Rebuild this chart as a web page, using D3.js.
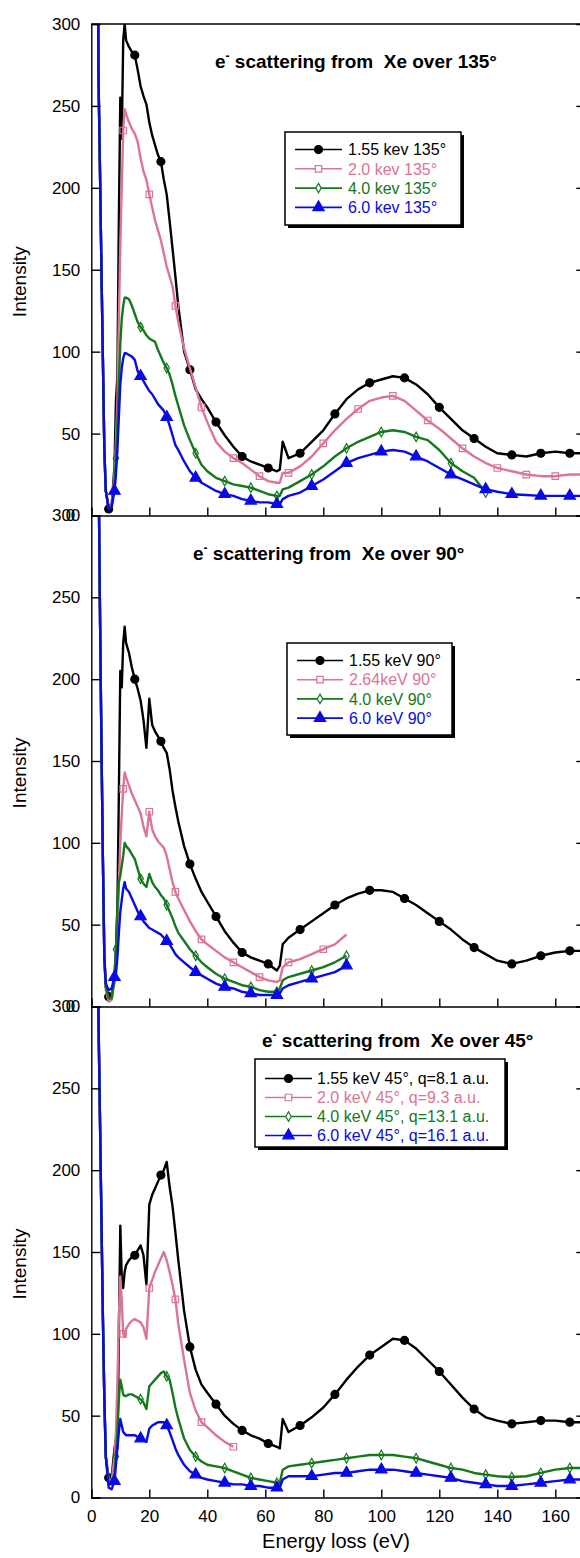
<!DOCTYPE html>
<html>
<head>
<meta charset="utf-8">
<script src="https://cdn.jsdelivr.net/npm/d3@7"></script>
<style>
body { margin: 0; background: #fff; }
text { font-family: "Liberation Sans", Arial, Helvetica, sans-serif; }
</style>
</head>
<body>
<div id="chart-area"></div>
<script>
// energy loss grid (eV), shared by every series
const energy = [2,2.5,3,3.5,4,4.5,5,6,7,8,8.5,9,9.5,10,10.5,11,11.5,12,13,14,15,16,17,18,19,20,21,22,23,24,25,26,27,28,29,30,32,34,36,38,40,43,46,49,52,55,58,61,64,65,66,68,72,76,80,84,88,92,96,100,104,108,112,116,120,124,128,132,136,140,145,150,155,160,165,170]

// 135 degrees
const black135 = [420,266,210,150,95,40,15,4,6, 30,70,85,180,255,230,290,300,290,
  286,283,281,272,262,256,251,240,232,226,220,216,205,196,180,163,146,128,
  100,89,77,71,66, 57,49,42,36,33,31,29,27, 28,45,35,
  38,45,52,62,71,77,81,83,85,84,80,74,66,59,52,47,42,38, 37,36,38,39,38,38]
const pink135 = [420,266,210,150,95,40,15,5,6, 25,45,70,120,165,200,235,248,245,
  240,236,233,228,218,210,205,196,188,180,174,168,160,152,146,140,128,118,
  102,90,78,66,57, 45,39,35,32,28,24,21,20, 20,26,26,
  30,36,44,52,59,65,70,72,73,70,64,58,53,47,41,36,32,29, 27,25,24,24,25,25]
const green135 = [420,266,210,150,95,40,15,5,5, 20,35,55,80,105,120,128,133,133,
  132,128,123,118,115,113,110,108,107,106,101,97,93,90,86,80,73,67,
  55,46,38,31,27, 23,21,19,18,17,15,13,12, 12,16,17,
  21,25,30,36,41,45,48,51,52,51,48,46,40,32,27,23,14,null, null,null,null,null,null,null]
const blue135 = [420,266,210,150,95,40,15,4,5, 15,25,40,60,80,90,96,99,99,
  98,97,95,88,85,82,79,76,74,71,68,66,64,60,55,49,43,40,
  33,27,23,20,18, 15,13,12,10,9,8,8,7, 7,10,12,
  14,18,22,27,32,35,37,39,40,39,36,33,29,25,22,19,16,14.5, 13,12.5,12,12,12,12]

// 90 degrees
const black90 = [420,330,240,160,90,30,12,6,5, 20,35,60,130,205,195,222,232,222,
  216,207,200,194,187,175,158,188,172,168,165,162,158,155,145,132,122,113,
  98,87,78,70,64, 55,46,39,33,30,28,26,22, 25,38,42,
  47,52,57,62,66,69,71,71,70,66,62,57,52,47,41,36,32,28, 26,28,31,33,34,34]
const pink90 = [420,330,240,160,90,30,10,3,4, 18,30,44,75,100,117,133,143,140,
  135,130,126,122,118,110,104,119,108,104,101,99,97,92,84,76,70,66,
  59,52,46,41,38, 34,30,27,24,21,18,16,15, 16,24,27,
  29,32,35,38,44,null,null,null,null,null,null,null,null,null,null,null,null,null, null,null,null,null,null,null]
const green90 = [420,330,240,160,90,30,12,5,5, 15,35,60,76,80,86,92,100,98,
  96,93,90,84,78,75,73,81,76,73,71,68,66,62,58,54,49,45,
  40,35,31,27,24, 20,17,15,13,12,10,9,9, 11,16,18,
  20,22,24,27,31,null,null,null,null,null,null,null,null,null,null,null,null,null, null,null,null,null,null,null]
const blue90 = [420,330,240,160,90,30,14,10,11, 18,20,30,45,58,65,72,76,72,
  70,66,62,58,55,52,50,48,47,46,45,44,42,40,38,35,32,30,
  27,24,21,19,17, 14,12,11,9,8,7,7,7, 8,11,13,
  15,17,19,21,25,null,null,null,null,null,null,null,null,null,null,null,null,null, null,null,null,null,null,null]

// 45 degrees
const black45 = [420,290,230,170,110,60,25,12,12, 30,36,30,100,166,135,128,138,142,
  145,147,148,151,154,148,130,179,185,189,193,197,200,205,190,178,162,145,
  114,92,78,69,64, 57,50,45,41,38,36,33,31, 30,48,40,
  44,49,55,63,72,80,87,92,97,96,91,84,77,69,61,54,49,47, 45,46,47,47,46,46]
const pink45 = [420,290,230,170,110,60,25,11,10, 25,40,70,110,135,120,100,98,103,
  106,108,109,108,107,104,97,128,133,138,142,146,150,145,138,130,121,106,
  84,64,53,46,43, 38,34,31,null,null,null,null,null, null,null,null,
  null,null,null,null,null,null,null,null,null,null,null,null,null,null,null,null,null,null, null,null,null,null,null,null]
const green45 = [420,290,230,170,110,60,25,8,8, 15,25,40,60,72,68,63,62,62,
  63,63,62,61,60,58,54,68,70,72,74,76,77,74,72,64,55,48,
  36,29,25,22,20, 19,18,16,14,12,11,10,9, 9,17,19,
  20,21,22,23,24,25,26,26,26,25,24,22,20,18,17,15,14,13, 12.5,13,15,17,18,18]
const blue45 = [420,290,230,170,110,60,25,6,5, 10,20,30,40,48,44,40,39,38,
  38,38,38,37,36,35,34,42,44,45,46,46,46,44,40,35,30,26,
  20,16,14,12,11, 10,9,8,8,7,7,6,6, 6,11,13,
  13,13,14,15,15,16,17,17,17,16,15,14,13,12,10,9,8,7, 7,8,9,10,11,11]

const legend135 = ["1.55 kev 135°", "2.0 kev 135°", "4.0 kev 135°", "6.0 kev 135°"]
const legend90 = ["1.55 keV 90°", "2.64keV 90°", "4.0 keV 90°", "6.0 keV 90°"]
const legend45 = ["1.55 keV 45°, q=8.1 a.u.", "2.0 keV 45°, q=9.3 a.u.", "4.0 keV 45°, q=13.1 a.u.", "6.0 keV 45°, q=16.1 a.u."]
const angles = ["135°", "90°", "45°"]

const xTicks = [0,20,40,60,80,100,120,140,160]
const yTicks = [0,50,100,150,200,250,300]

const w = 580
const h = 1558
const colors = ['#000000', '#dc7592', '#15781d', '#0a0ae6']
const symbols = [d3.symbolCircle, d3.symbolSquare, d3.symbolDiamond, d3.symbolTriangle]
const symSize = [50, 42, 26, 56]
const symFilled = [true, false, false, true]
const markStart = [6, 11, 8.5, 8]

const panels = [
  {top: 24, bottom: 515.5, series: [black135, pink135, green135, blue135], labels: legend135,
   titleX: 215, titleY: 68,
   box: {x: 285, y: 132, w: 176, h: 93, row0: 149.5, step: 19.3, l1: 295, l2: 342, tx: 348}},
  {top: 515.5, bottom: 1006.5, series: [black90, pink90, green90, blue90], labels: legend90,
   titleX: 193, titleY: 560,
   box: {x: 287, y: 643, w: 165, h: 92, row0: 660.5, step: 19.2, l1: 297, l2: 343, tx: 349}},
  {top: 1006.5, bottom: 1497.5, series: [black45, pink45, green45, blue45], labels: legend45,
   titleX: 262, titleY: 1047,
   box: {x: 255, y: 1059, w: 250, h: 88, row0: 1078.5, step: 19, l1: 265, l2: 312, tx: 317}}
]

const svg = d3.select('#chart-area')
  .append('svg')
  .attr('width', w)
  .attr('height', h)

const x = d3.scaleLinear().domain([0, 170]).range([91.3, 584.3])

panels.forEach((p, pi) => {
  const y = d3.scaleLinear().domain([0, 300]).range([p.bottom, p.top])
  const g = svg.append('g')

  g.append('clipPath').attr('id', 'clip' + pi)
    .append('rect')
    .attr('x', x(0)).attr('y', p.top)
    .attr('width', x(170) - x(0)).attr('height', p.bottom - p.top)

  const plot = g.append('g').attr('clip-path', 'url(#clip' + pi + ')')

  const line = d3.line()
    .defined(d => d.v != null)
    .x(d => x(d.e))
    .y(d => y(d.v))

  p.series.forEach((s, si) => {
    const pts = energy.map((e, i) => ({e: e, v: s[i]}))
    plot.append('path')
      .attr('d', line(pts))
      .attr('fill', 'none')
      .attr('stroke', colors[si])
      .attr('stroke-width', 2.4)
      .attr('stroke-linejoin', 'round')

    // markers about every 8.5 eV
    let last = -100
    const marks = pts.filter(d => {
      if (d.v == null || d.e < markStart[si]) return false
      if (d.e - last >= 8.4) { last = d.e; return true }
      return false
    })
    plot.selectAll('.m' + si)
      .data(marks)
      .enter()
      .append('path')
      .attr('transform', d => 'translate(' + x(d.e) + ',' + y(d.v) + ')')
      .attr('d', d3.symbol().type(symbols[si]).size(symSize[si]))
      .attr('fill', symFilled[si] ? colors[si] : 'none')
      .attr('stroke', colors[si])
      .attr('stroke-width', 1.2)
  })

  // axes
  const left = g.append('g')
    .attr('transform', 'translate(' + x(0) + ',0)')
    .call(d3.axisLeft(y).tickValues(yTicks).tickSize(-9).tickPadding(11))
  left.selectAll('text')
    .attr('font-size', 17)
    .attr('font-family', '"Liberation Sans", Arial, sans-serif')
    .attr('dx', d => (d === 0 && pi < 2) ? -5 : 0)

  const right = g.append('g')
    .attr('transform', 'translate(' + x(170) + ',0)')
    .call(d3.axisRight(y).tickValues(yTicks.slice(1, 6)).tickSize(-8).tickFormat(''))

  const bottom = g.append('g')
    .attr('transform', 'translate(0,' + p.bottom + ')')
    .call(d3.axisBottom(x).tickValues(xTicks).tickSize(-8).tickPadding(12)
      .tickFormat(pi === 2 ? d3.format('d') : ''))
  bottom.selectAll('text')
    .attr('font-size', 17)
    .attr('font-family', '"Liberation Sans", Arial, sans-serif')

  g.selectAll('.domain, .tick line').attr('stroke', '#000').attr('stroke-width', 1.4)

  if (pi === 0) {
    g.append('line')
      .attr('x1', x(0)).attr('x2', x(170))
      .attr('y1', p.top).attr('y2', p.top)
      .attr('stroke', '#000').attr('stroke-width', 1.4)
  }

  // title
  const t = g.append('text')
    .attr('x', p.titleX)
    .attr('y', p.titleY)
    .attr('font-size', 19)
    .attr('font-weight', 'bold')
    .style('white-space', 'pre')
  t.append('tspan').text('e')
  t.append('tspan').attr('dy', -8).attr('font-size', 12).text('-')
  t.append('tspan').attr('dy', 8).text(' scattering from  Xe over ' + angles[pi])

  // y label
  g.append('text')
    .attr('transform', 'translate(26,' + ((p.top + p.bottom) / 2 + 12) + ') rotate(-90)')
    .attr('text-anchor', 'middle')
    .attr('font-size', 19)
    .text('Intensity')

  // legend
  const b = p.box
  const lg = g.append('g')
  lg.append('rect')
    .attr('x', b.x + 3).attr('y', b.y + 3)
    .attr('width', b.w).attr('height', b.h)
    .attr('fill', '#000')
  lg.append('rect')
    .attr('x', b.x).attr('y', b.y)
    .attr('width', b.w).attr('height', b.h)
    .attr('fill', '#fff')
    .attr('stroke', '#000')
    .attr('stroke-width', 1.5)

  const rows = lg.selectAll('.row')
    .data(p.labels)
    .enter()
    .append('g')
    .attr('transform', (d, i) => 'translate(0,' + (b.row0 + i * b.step) + ')')

  rows.append('line')
    .attr('x1', b.l1).attr('x2', b.l2)
    .attr('stroke', (d, i) => colors[i])
    .attr('stroke-width', 1.6)
  rows.append('path')
    .attr('transform', 'translate(' + (b.l1 + b.l2) / 2 + ',0)')
    .attr('d', (d, i) => d3.symbol().type(symbols[i]).size(symSize[i])())
    .attr('fill', (d, i) => symFilled[i] ? colors[i] : '#fff')
    .attr('stroke', (d, i) => colors[i])
    .attr('stroke-width', 1.2)
  rows.append('text')
    .attr('x', b.tx)
    .attr('dy', '0.36em')
    .attr('font-size', 16)
    .attr('fill', (d, i) => colors[i])
    .text(d => d)
})

svg.append('text')
  .attr('x', 336)
  .attr('y', 1548)
  .attr('text-anchor', 'middle')
  .attr('font-size', 20)
  .text('Energy loss (eV)')
</script>
</body>
</html>
